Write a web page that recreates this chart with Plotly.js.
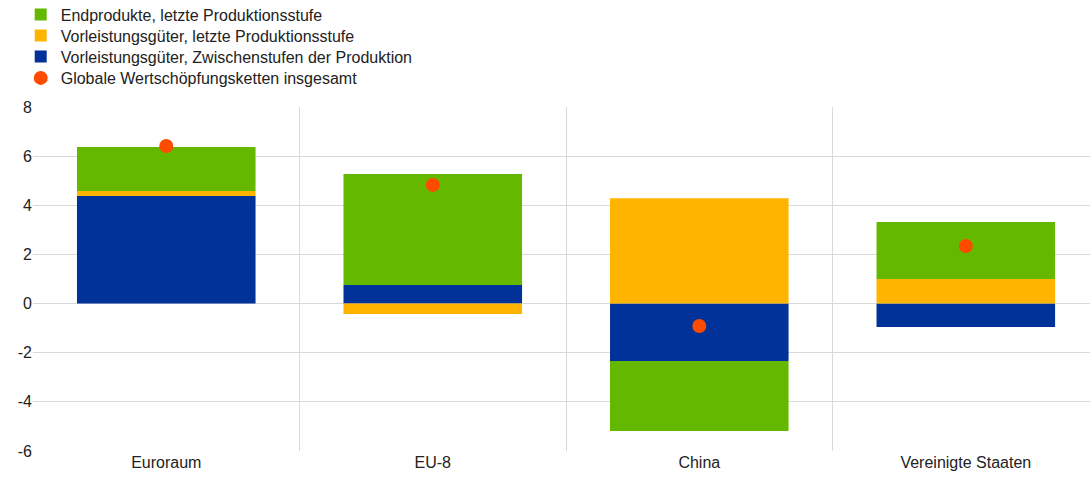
<!DOCTYPE html>
<html>
<head>
<meta charset="utf-8">
<script src="https://cdn.plot.ly/plotly-3.0.1.min.js"></script>
<style>html,body{margin:0;padding:0;background:#fff;}#chart{width:1090px;height:479px;}</style>
</head>
<body>
<div id="chart"></div>
<script>
const categories = ["Euroraum", "EU-8", "China", "Vereinigte Staaten"];
const endprodukte = [1.79, 4.51, -2.85, 2.32];
const vorleistungLetzte = [0.20, -0.42, 4.29, 1.00];
const vorleistungZwischen = [4.38, 0.76, -2.34, -0.95];
const gesamt = [6.41, 4.83, -0.91, 2.34];

const yTickVals = [-6, -4, -2, 0, 2, 4, 6, 8];
const yTickText = ["-6", "-4", "-2", "0", "2", "4", "6", "8"];

const names = [
  "Endprodukte, letzte Produktionsstufe",
  "Vorleistungsgüter, letzte Produktionsstufe",
  "Vorleistungsgüter, Zwischenstufen der Produktion",
  "Globale Wertschöpfungsketten insgesamt"
];

const traces = [
  {type: "bar", x: categories, y: vorleistungZwischen, name: names[2], legend: "legend3",
   marker: {color: "#003299"}, width: 0.67},
  {type: "bar", x: categories, y: vorleistungLetzte, name: names[1], legend: "legend2",
   marker: {color: "#FFB400"}, width: 0.67},
  {type: "bar", x: categories, y: endprodukte, name: names[0], legend: "legend",
   marker: {color: "#64B800"}, width: 0.67},
  {type: "scatter", mode: "markers", x: categories, y: gesamt, name: names[3], legend: "legend4",
   marker: {color: "#FF4B00", size: 14}}
];

function leg(yc) {
  return {
    orientation: "v", xref: "container", yref: "container",
    x: 0.019, y: 1 - yc / 479, xanchor: "left", yanchor: "middle",
    font: {size: 16, color: "#222"}, itemwidth: 30, tracegroupgap: 0,
    bgcolor: "rgba(0,0,0,0)"
  };
}

const layout = {
  width: 1090, height: 479,
  margin: {l: 33, r: 0, t: 107, b: 28, autoexpand: false},
  barmode: "relative",
  bargap: 0.33,
  paper_bgcolor: "#fff", plot_bgcolor: "#fff",
  font: {family: "Liberation Sans, Arial, sans-serif", size: 16, color: "#222"},
  showlegend: true,
  legend: leg(14.5),
  legend2: leg(35.5),
  legend3: leg(56.5),
  legend4: leg(78),
  xaxis: {
    type: "category", range: [-0.5, 3.466],
    tickson: "boundaries", ticks: "", showgrid: true, gridcolor: "#d9d9d9", gridwidth: 1,
    showline: false, zeroline: false, tickfont: {size: 16, color: "#222"}
  },
  yaxis: {
    range: [-6, 8], tickmode: "array", tickvals: yTickVals, ticktext: yTickText,
    showgrid: true, gridcolor: "#d9d9d9", gridwidth: 1,
    zeroline: true, zerolinecolor: "#d9d9d9", zerolinewidth: 1,
    showline: false, ticks: "", ticklen: 0, tickfont: {size: 16, color: "#222"}
  }
};

Plotly.newPlot("chart", traces, layout, {displayModeBar: false, staticPlot: true});
</script>
</body>
</html>
